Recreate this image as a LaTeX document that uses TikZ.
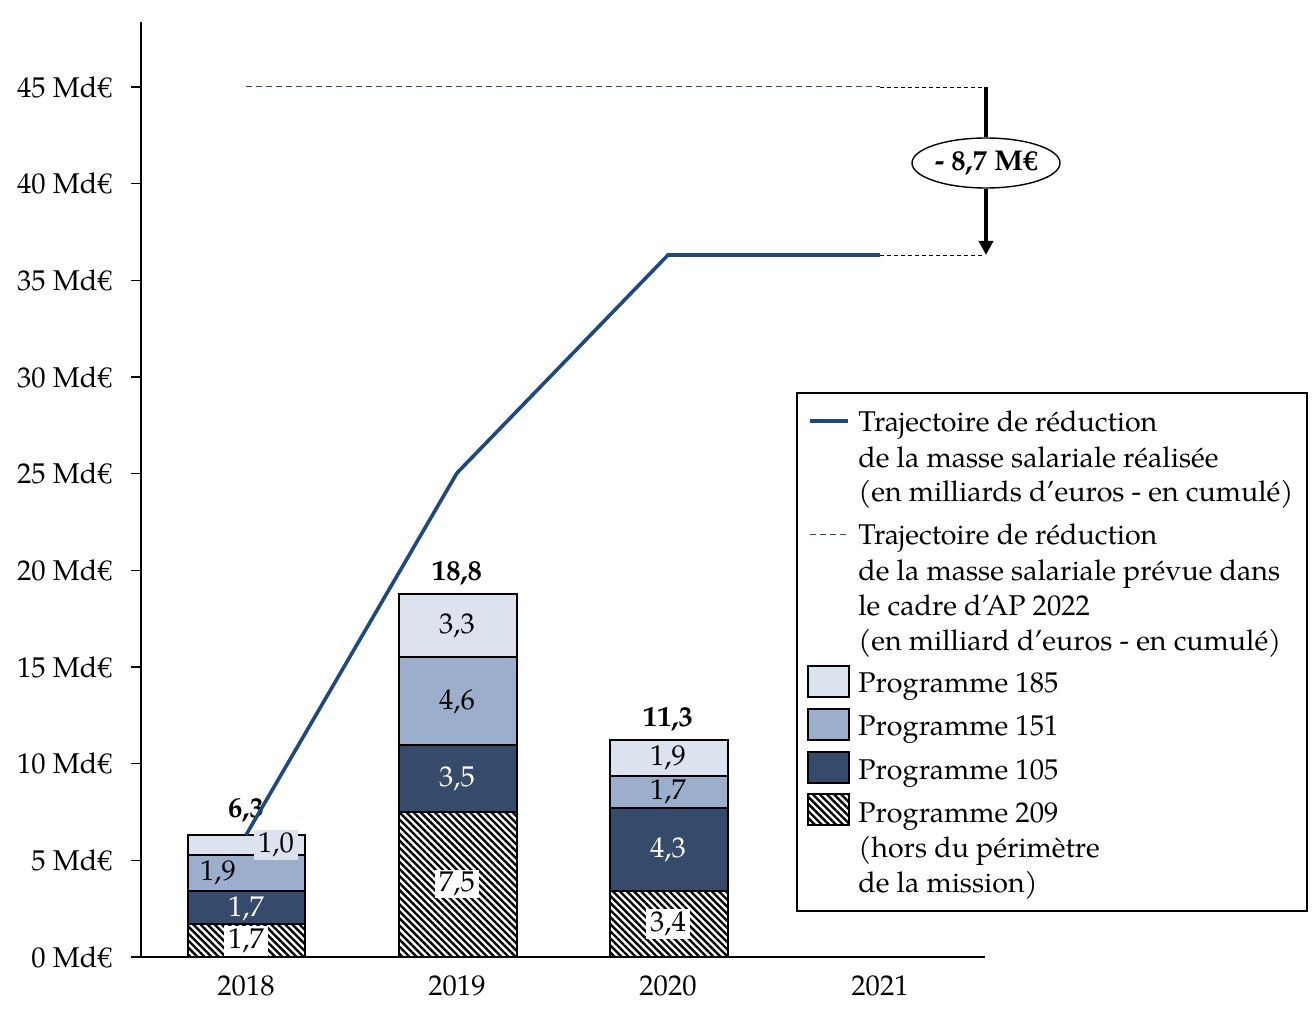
\documentclass[tikz,border=0pt]{standalone}
\usepackage{fontspec}
\setmainfont{TeX Gyre Pagella}
\usetikzlibrary{shapes.geometric,patterns.meta,arrows.meta}
\definecolor{cA}{RGB}{220,227,238}
\definecolor{cB}{RGB}{155,175,205}
\definecolor{cC}{RGB}{54,75,108}
\definecolor{traj}{RGB}{31,73,125}
\begin{document}
\begin{tikzpicture}[x=0.5pt,y=-0.5pt,
  font=\fontsize{14.3}{17.5}\selectfont,
  seg/.style={draw=black, line width=1pt},
  hatch/.style={seg, pattern={Lines[angle=-45,distance=2.5pt,line width=1.2pt]}},
  val/.style={inner xsep=2pt, inner ysep=1.2pt},
  tot/.style={font=\fontsize{14.3}{17.5}\selectfont\bfseries},
  legtxt/.style={anchor=base west, inner sep=0pt},
  legsq/.style={draw=black, line width=1pt},
  trajline/.style={draw=traj, line width=1.8pt},
  planline/.style={draw=traj, line width=0.5pt, dash pattern=on 3pt off 2pt},
  guide/.style={draw=black, line width=0.4pt, dash pattern=on 2pt off 1.5pt}]
\useasboundingbox (0,0) rectangle (1312,1021);

% axes
\draw[line width=0.8pt] (141,22) -- (141,957) -- (985,957);
\foreach \v in {0,5,...,45}{
  \pgfmathsetmacro{\yy}{957-\v*19.333}
  \draw[line width=0.8pt] (131,\yy) -- (141,\yy);
  \node[anchor=east, inner sep=0pt] (ylab\v) at (112,\yy) {\v\ Md€};
}
\foreach \yr/\xx in {2018/246,2019/457,2020/668,2021/880}
  \node (year\yr) at (\xx,986) {\yr};

% bars 2018
\draw[hatch] (188,957) rectangle (305,924.1);
\filldraw[seg, fill=cC] (188,924.1) rectangle (305,891.2);
\filldraw[seg, fill=cB] (188,891.2) rectangle (305,854.5);
\filldraw[seg, fill=cA] (188,854.5) rectangle (305,835.2);
% bars 2019
\draw[hatch] (399,957) rectangle (517,812);
\filldraw[seg, fill=cC] (399,812) rectangle (517,745);
\filldraw[seg, fill=cB] (399,745) rectangle (517,657);
\filldraw[seg, fill=cA] (399,657) rectangle (517,594);
% bars 2020
\draw[hatch] (610,957) rectangle (728,891.3);
\filldraw[seg, fill=cC] (610,891.3) rectangle (728,808.2);
\filldraw[seg, fill=cB] (610,808.2) rectangle (728,775.8);
\filldraw[seg, fill=cA] (610,775.8) rectangle (728,740);

% totals
\node[tot] (t18) at (246,810) {6,3};
\node[tot] (t19) at (457,573) {18,8};
\node[tot] (t20) at (668,719) {11,3};

% planned trajectory
\coordinate (q18) at (246,87);
\coordinate (q21) at (880,87);
\coordinate (qend) at (985,87);
\draw[planline] (q18) -- (q21);
\draw[guide] (q21) -- (qend);

% realised trajectory
\coordinate (p18) at (246,835);
\coordinate (p19) at (457,473);
\coordinate (p20) at (668,255);
\coordinate (p21) at (880,255);
\coordinate (pend) at (985,255);
\draw[trajline] (p18) -- (p19) -- (p20) -- (p21);
\draw[guide] (p21) -- (pend);

% segment values
\node[val, fill=cA] (v18a) at (276,845) {1,0};
\node[val] (v18b) at (218,873) {1,9};
\node[val, text=white] (v18c) at (246,909) {1,7};
\node[val, fill=white] (v18d) at (246,941) {1,7};
\node[val] (v19a) at (457,626) {3,3};
\node[val] (v19b) at (457,702) {4,6};
\node[val, text=white] (v19c) at (457,779) {3,5};
\node[val, fill=white] (v19d) at (457,884) {7,5};
\node[val] (v20a) at (668,758) {1,9};
\node[val] (v20b) at (668,792) {1,7};
\node[val, text=white] (v20c) at (668,850) {4,3};
\node[val, fill=white] (v20d) at (668,924) {3,4};

% gap arrow
\coordinate (atop) at (986,87);
\coordinate (abot) at (986,255);
\node[ellipse, draw=black, line width=0.7pt, fill=white, minimum width=74pt, minimum height=25pt, inner sep=0pt, font=\fontsize{14.3}{17.5}\selectfont\bfseries] (gap) at (986,163) {- 8,7 M€};
\draw[line width=2pt] (atop) -- (gap.north);
\draw[line width=2pt, -{Triangle[length=7pt,width=7pt]}] (gap.south) -- (abot);

% legend
\draw[line width=0.6pt] (797,393) rectangle (1307,911);
\draw[trajline] (810,421) -- (848,421);
\node[legtxt] (l1a) at (858,432) {Trajectoire de réduction};
\node[legtxt] (l1b) at (858,467) {de la masse salariale réalisée};
\node[legtxt] (l1c) at (858,502) {(en milliards d’euros - en cumulé)};
\draw[planline] (810,534) -- (848,534);
\node[legtxt] (l2a) at (858,545) {Trajectoire de réduction};
\node[legtxt] (l2b) at (858,580) {de la masse salariale prévue dans};
\node[legtxt] (l2c) at (858,615) {le cadre d’AP 2022};
\node[legtxt] (l2d) at (858,650) {(en milliard d’euros - en cumulé)};
\filldraw[legsq, fill=cA] (808,666) rectangle (849,697);
\node[legtxt] (l3) at (858,692) {Programme 185};
\filldraw[legsq, fill=cB] (808,709) rectangle (849,740);
\node[legtxt] (l4) at (858,735) {Programme 151};
\filldraw[legsq, fill=cC] (808,752) rectangle (849,783);
\node[legtxt] (l5) at (858,779) {Programme 105};
\draw[legsq, pattern={Lines[angle=-45,distance=2.5pt,line width=1.2pt]}] (808,794) rectangle (849,825);
\node[legtxt] (l6a) at (858,822) {Programme 209};
\node[legtxt] (l6b) at (858,857) {(hors du périmètre};
\node[legtxt] (l6c) at (858,892) {de la mission)};
\end{tikzpicture}
\end{document}
